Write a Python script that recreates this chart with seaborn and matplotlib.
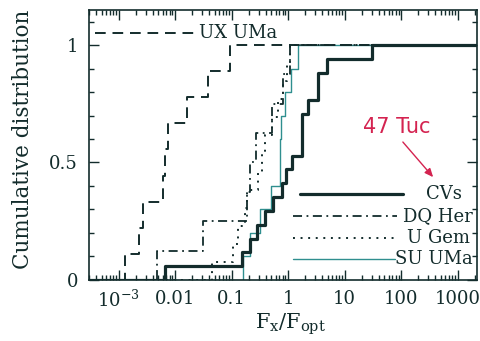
import numpy as np
import matplotlib
matplotlib.use("Agg")
import matplotlib.pyplot as plt
from matplotlib.ticker import FixedLocator, FixedFormatter, LogLocator, NullFormatter, MultipleLocator
import seaborn as sns

# X-ray to optical flux ratios, one value per source
cv_all = [0.00665, 0.153, 0.212, 0.283, 0.392, 0.543, 0.783, 0.922, 1.18,
          1.77, 1.77, 1.77, 2.26, 3.40, 3.40, 4.90, 30.7]
dq_her = [0.0048, 0.0313, 0.188, 0.212, 0.272, 0.521, 0.816, 1.085]
u_gem = [0.0452, 0.106, 0.130, 0.173, 0.188, 0.294, 0.347, 0.392, 0.521,
         0.665, 0.816, 0.960, 1.085]
su_uma = [0.160, 0.212, 0.319, 0.500, 0.722, 0.722, 0.752, 0.885, 1.13, 1.50]
ux_uma = [0.00130, 0.00231, 0.00272, 0.00613, 0.00665, 0.00752, 0.0163,
          0.0384, 0.094]

legend_labels = ["CVs", "DQ Her", "U Gem", "SU UMa"]
ux_label = "UX UMa"
cluster_label = "47 Tuc"
x_ticks = [1e-3, 1e-2, 1e-1, 1, 10, 100, 1000]
x_tick_labels = [r"$10^{-3}$", "0.01", "0.1", "1", "10", "100", "1000"]
y_ticks = [0, 0.5, 1]
y_tick_labels = ["0", "0.5", "1"]

INK = "#132c2c"
TEAL = "#2f8f8f"
RED = "#d42350"

sns.set_style("ticks")
plt.rcParams["font.family"] = ["DejaVu Serif"]
plt.rcParams["mathtext.fontset"] = "dejavuserif"

fig = plt.figure(figsize=(4.8, 3.41), dpi=100)
ax = fig.add_axes([0.1854, 0.1789, 0.8083, 0.7918])
ax.set_xscale("log")
X_MIN, X_MAX = 3.0e-4, 2200.0

styles = {
    "SU UMa": dict(color=TEAL, linewidth=1.0, linestyle="-"),
    "U Gem": dict(color=INK, linewidth=1.4, linestyle=(0, (1.0, 2.9))),
    "DQ Her": dict(color=INK, linewidth=1.3, linestyle=(0, (5.0, 2.5, 1.0, 2.5))),
    "UX UMa": dict(color=INK, linewidth=1.4, linestyle=(0, (5.5, 3.5))),
    "CVs": dict(color=INK, linewidth=2.3, linestyle="-"),
}
series = [("SU UMa", su_uma), ("U Gem", u_gem), ("DQ Her", dq_her),
          ("UX UMa", ux_uma), ("CVs", cv_all)]

for name, vals in series:
    sns.ecdfplot(x=np.asarray(vals), ax=ax, **styles[name])
    line = ax.lines[-1]
    xd, yd = line.get_data()
    # carry the completed distribution on to the right edge
    line.set_data(np.append(xd, X_MAX), np.append(yd, 1.0))

ax.set_xlim(X_MIN, X_MAX)
ax.set_ylim(0, 1.149)

# leader line and label for the UX UMa sample
ax.plot([3.84e-4, 0.0255], [1.05, 1.05], **styles["UX UMa"])
ax.text(0.0262, 1.05, ux_label, ha="left", va="center", fontsize=13, color=INK)

# legend drawn as line samples with labels
leg_rows = [(0.319, 0.544, 0.809, 0.961), (0.237, 0.526, 0.794, 0.988),
            (0.156, 0.526, 0.789, 0.983), (0.078, 0.526, 0.789, 0.988)]
for lab, (yy, x0, x1, xt) in zip(legend_labels, leg_rows):
    ax.plot([x0, x1], [yy, yy], transform=ax.transAxes, **styles[lab])
    ax.text(xt, yy, lab, transform=ax.transAxes, ha="right", va="center",
            fontsize=13, color=INK)

# cluster annotation
ax.text(0.792, 0.567, cluster_label, transform=ax.transAxes, ha="center",
        va="center", fontsize=15, color=RED, family=["DejaVu Sans"])
ax.annotate("", xy=(0.887, 0.381), xytext=(0.809, 0.511),
            xycoords="axes fraction", textcoords="axes fraction",
            arrowprops=dict(arrowstyle="-|>,head_length=0.5,head_width=0.22",
                            color=RED, lw=1.0, shrinkA=0, shrinkB=0))

ax.xaxis.set_major_locator(FixedLocator(x_ticks))
ax.xaxis.set_major_formatter(FixedFormatter(x_tick_labels))
ax.xaxis.set_minor_locator(LogLocator(base=10, subs=np.arange(2, 10), numticks=100))
ax.xaxis.set_minor_formatter(NullFormatter())
ax.yaxis.set_major_locator(FixedLocator(y_ticks))
ax.yaxis.set_major_formatter(FixedFormatter(y_tick_labels))
ax.yaxis.set_minor_locator(MultipleLocator(0.1))

ax.tick_params(which="both", direction="in", top=True, right=True,
               color=INK, labelcolor=INK, labelsize=13, width=1.0)
ax.tick_params(which="major", length=7)
ax.tick_params(which="minor", length=3.5)
ax.tick_params(axis="x", which="major", pad=7)
ax.tick_params(axis="y", which="major", pad=8)
for sp in ax.spines.values():
    sp.set_color(INK)
    sp.set_linewidth(1.2)

ax.set_ylabel("Cumulative distribution", fontsize=15.5, color=INK)
ax.yaxis.set_label_coords(-0.142, 0.52)
ax.set_xlabel(r"F$_\mathrm{x}$/F$_\mathrm{opt}$", fontsize=15, color=INK)
ax.xaxis.set_label_coords(0.52, -0.115)

fig.savefig("out.png", dpi=100)
